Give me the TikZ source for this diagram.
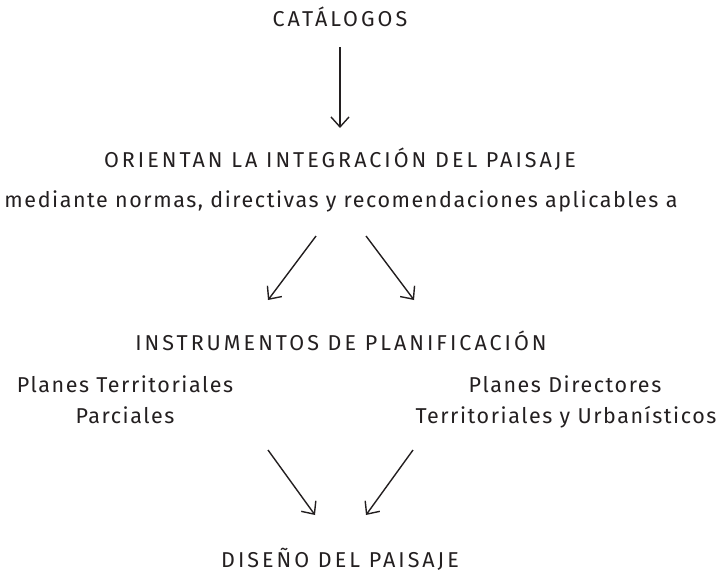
\documentclass[tikz,border=0pt]{standalone}
\usepackage{fontspec}
\setmainfont{Fira Sans}
\newfontfamily\fzero{Fira Sans}
\newfontfamily\ften{Fira Sans}[LetterSpace=10]
\newlength\wzero
\newlength\wten
\def\fsz{21.5}
% fit lowercase lines
\def\probe{mediante normas, directivas y recomendaciones aplicables a}
\settowidth\wzero{\fzero\fontsize{\fsz}{24}\selectfont\probe}
\settowidth\wten{\ften\fontsize{\fsz}{24}\selectfont\probe}
\pgfmathsetmacro\lsval{10*(673-\wzero)/(\wten-\wzero)}
\edef\tmpdef{\noexpand\newfontfamily\noexpand\fmain{Fira Sans}[LetterSpace=\lsval]}
\tmpdef
% fit capital headings
\def\probecaps{ORIENTAN LA INTEGRACIÓN DEL PAISAJE}
\settowidth\wzero{\fzero\fontsize{\fsz}{24}\selectfont\probecaps}
\settowidth\wten{\ften\fontsize{\fsz}{24}\selectfont\probecaps}
\pgfmathsetmacro\lscaps{10*(472-\wzero)/(\wten-\wzero)}
\edef\tmpdef{\noexpand\newfontfamily\noexpand\fcaps{Fira Sans}[LetterSpace=\lscaps]}
\tmpdef
\usetikzlibrary{arrows.meta}
\definecolor{ink}{HTML}{231F20}
\tikzset{
  lbl/.style={anchor=base, inner sep=0pt, text=ink, font=\fmain\fontsize{\fsz}{24}\selectfont},
  headlbl/.style={anchor=base, inner sep=0pt, text=ink, font=\fcaps\fontsize{\fsz}{24}\selectfont},
  arr/.style={draw=ink, line width=1.4pt, -{Straight Barb[length=10pt,width=18pt,line width=1.4pt]}}
}
\begin{document}
\begin{tikzpicture}[x=1pt,y=-1pt]
\useasboundingbox (0,0) rectangle (719,574);
\node[headlbl] (cat) at (340,26) {CATÁLOGOS};
\node[headlbl] (ori) at (340,167) {ORIENTAN LA INTEGRACIÓN DEL PAISAJE};
\node[lbl] (med) at (341,207) {mediante normas, directivas y recomendaciones aplicables a};
\node[headlbl] (ins) at (341,350) {INSTRUMENTOS DE PLANIFICACIÓN};
\node[lbl] (ptl1) at (125,392) {Planes Territoriales};
\node[lbl] (ptl2) at (125,423) {Parciales};
\node[lbl] (pdr1) at (565,392) {Planes Directores};
\node[lbl] (pdr2) at (566,423) {Territoriales y Urbanísticos};
\node[headlbl] (dis) at (340,567) {DISEÑO DEL PAISAJE};
\coordinate (a0s) at (340,47);
\coordinate (a0e) at (340,128);
\coordinate (a1s) at (316,236);
\coordinate (a1e) at (268,300);
\coordinate (a2s) at (366,236);
\coordinate (a2e) at (414,300);
\coordinate (a3s) at (268,450);
\coordinate (a3e) at (315,515);
\coordinate (a4s) at (413,450);
\coordinate (a4e) at (366,515);
\draw[arr] (a0s) -- (a0e);
\draw[arr] (a1s) -- (a1e);
\draw[arr] (a2s) -- (a2e);
\draw[arr] (a3s) -- (a3e);
\draw[arr] (a4s) -- (a4e);
\end{tikzpicture}
\end{document}
